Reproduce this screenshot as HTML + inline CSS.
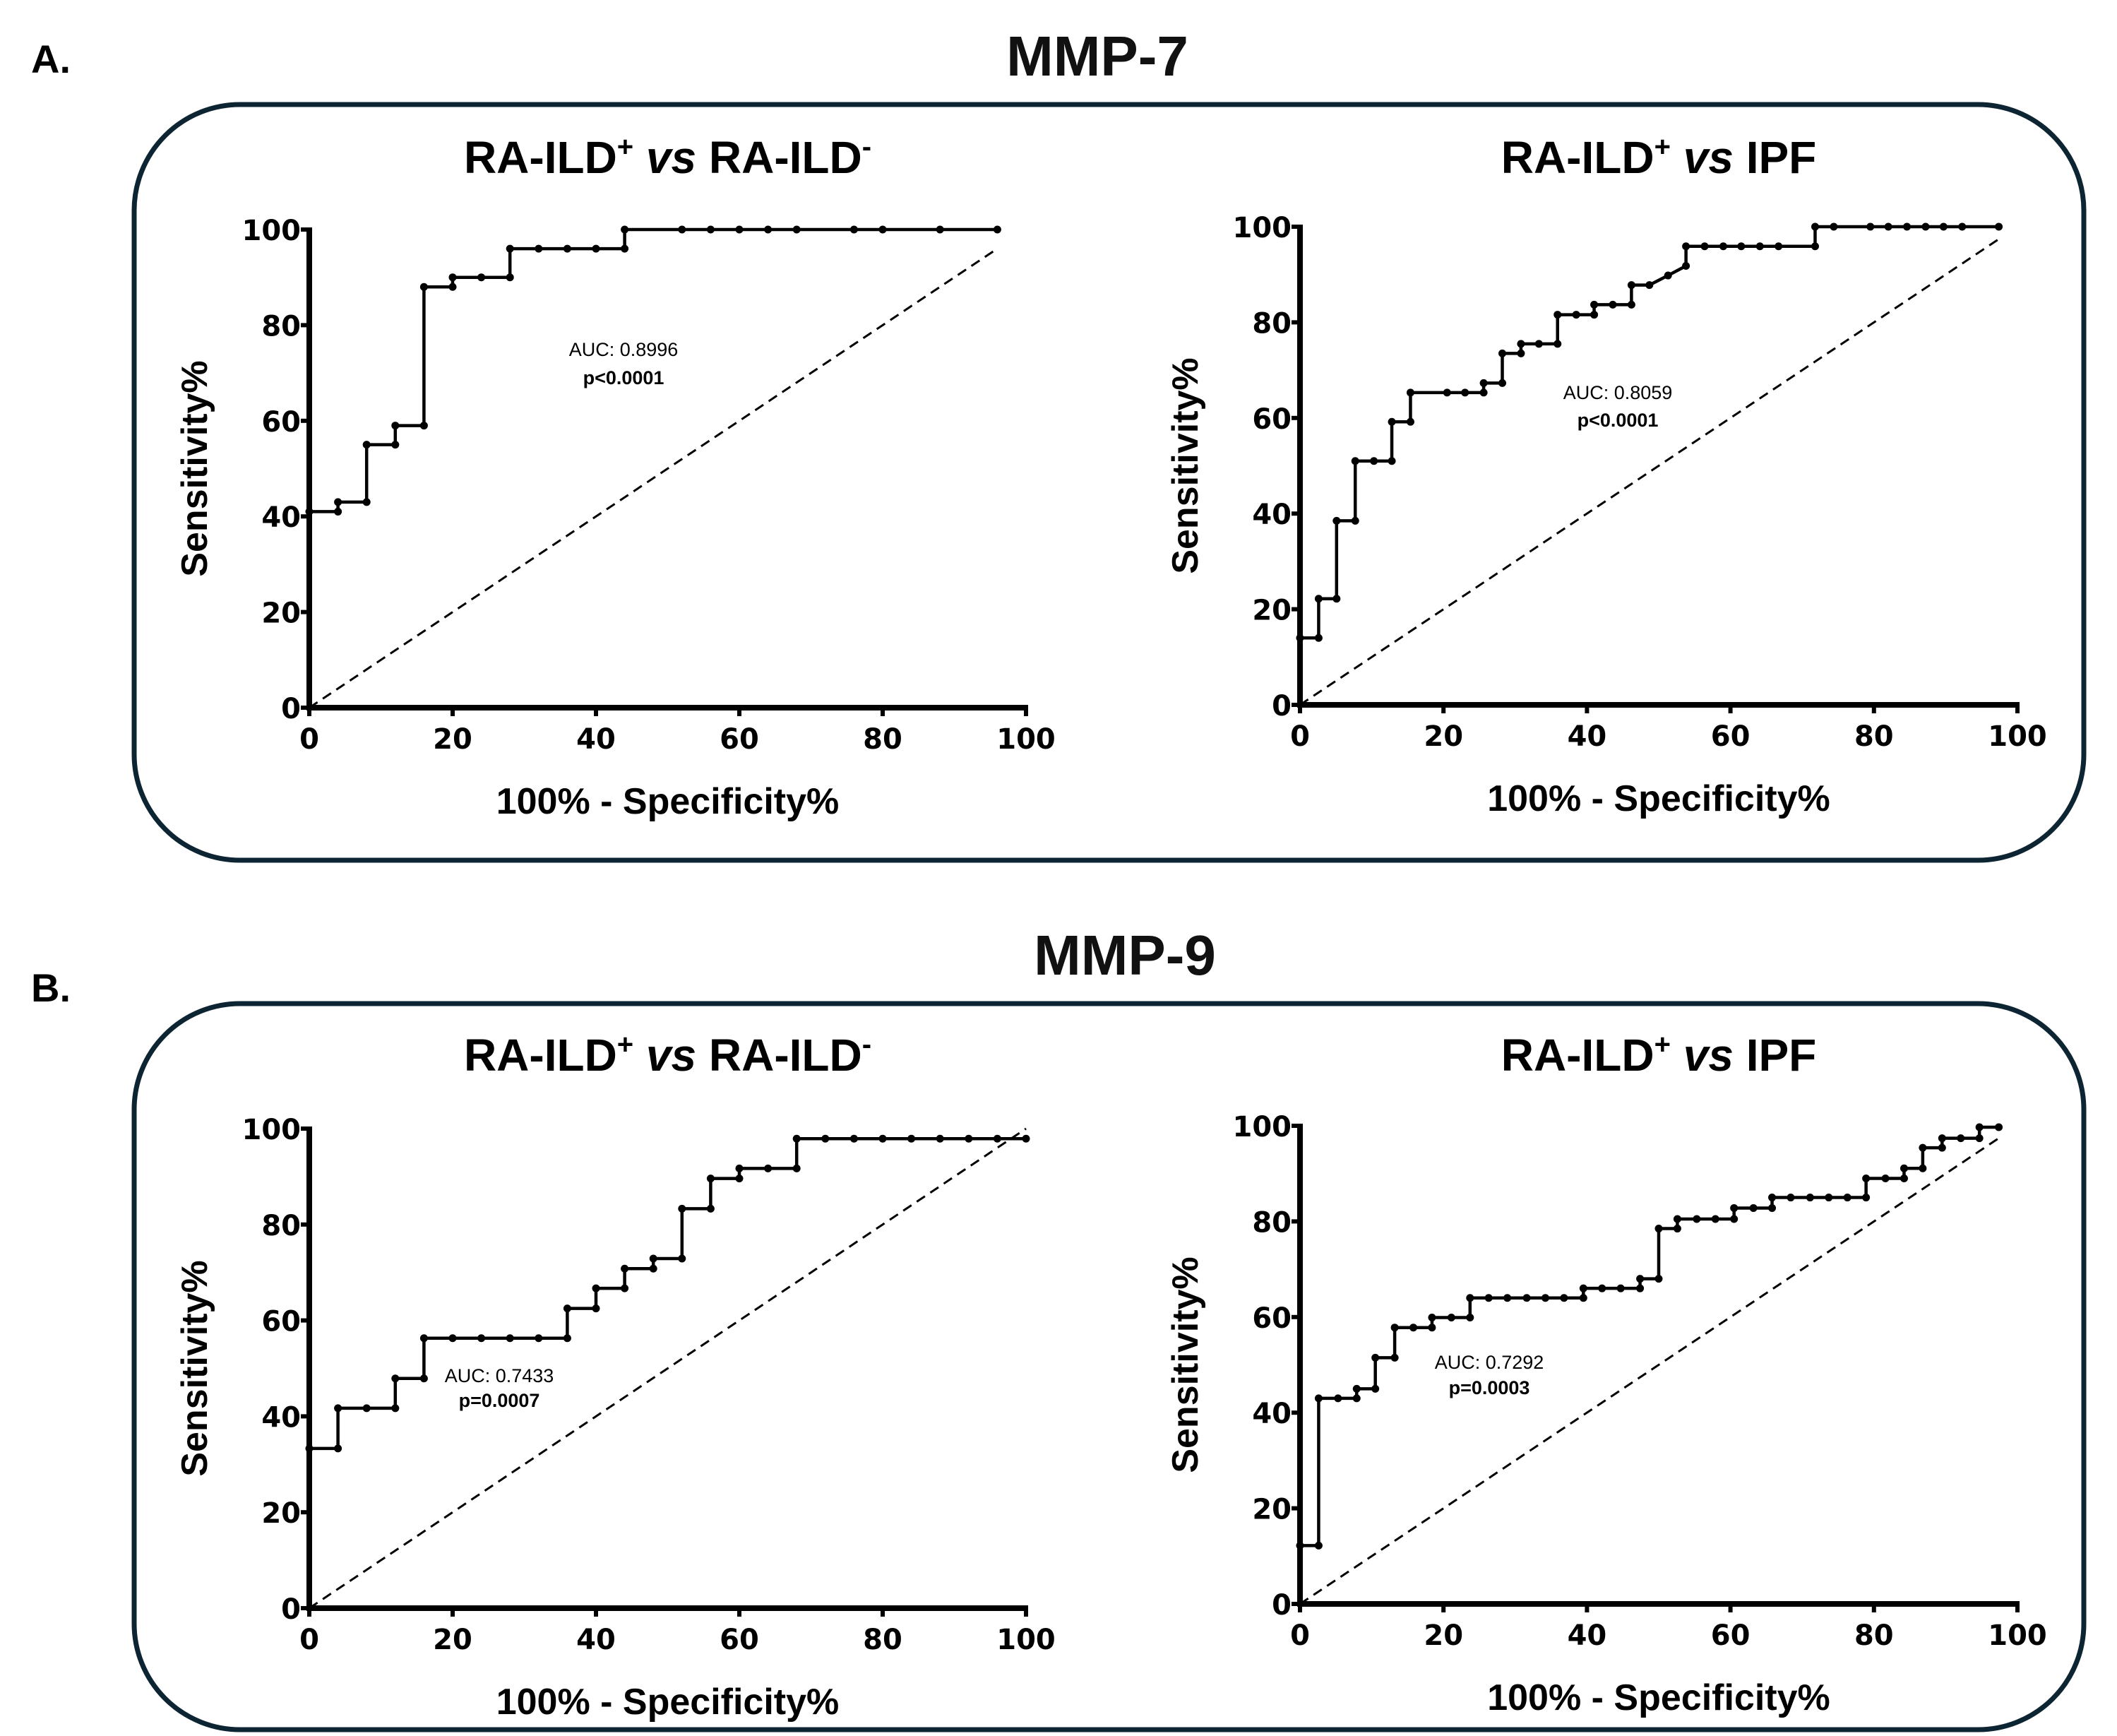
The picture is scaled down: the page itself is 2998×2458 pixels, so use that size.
<!DOCTYPE html>
<html><head><meta charset="utf-8"><style>
html,body{margin:0;padding:0;background:#fff;}
svg{display:block;font-family:"Liberation Sans",Arial,sans-serif;}
</style></head><body>
<svg id="root" width="2998" height="2458" viewBox="0 0 2998 2458" xmlns="http://www.w3.org/2000/svg">
<rect width="2998" height="2458" fill="#fff"/>
<text x="44" y="103" font-size="56" font-weight="bold">A.</text>
<text x="1554" y="107" font-size="80" font-weight="bold" text-anchor="middle" fill="#111">MMP-7</text>
<rect x="190" y="148" width="2761" height="1070" rx="150" ry="150" fill="none" stroke="#0d2533" stroke-width="7"/>
<text x="44" y="1418" font-size="56" font-weight="bold">B.</text>
<text x="1593" y="1380" font-size="80" font-weight="bold" text-anchor="middle" fill="#111">MMP-9</text>
<rect x="190" y="1421" width="2761" height="1028" rx="150" ry="150" fill="none" stroke="#0d2533" stroke-width="7"/>
<g id="plots"></g>
</svg>
<script>
// Data (100% - Specificity%, Sensitivity%)
const a1X = [0,4,4,8,8,12,12,16,16,20,20,24,28,28,32,36,40,44,44,52,56,60,64,68,76,80,88,96];
const a1Y = [41,41,43,43,55,55,59,59,88,88,90,90,90,96,96,96,96,96,100,100,100,100,100,100,100,100,100,100];
const a2X = [0,2.6,2.6,5.1,5.1,7.7,7.7,10.3,12.8,12.8,15.4,15.4,20.5,23,25.6,25.6,28.2,28.2,30.8,30.8,33.3,35.9,35.9,38.5,41,41,43.6,46.2,46.2,48.7,51.3,53.8,53.8,56.4,59,61.5,64.1,66.7,71.8,71.8,74.4,79.5,82,84.6,87.2,89.7,92.3,97.4];
const a2Y = [14,14,22.2,22.2,38.5,38.5,51,51,51,59.2,59.2,65.3,65.3,65.3,65.3,67.3,67.3,73.5,73.5,75.5,75.5,75.5,81.6,81.6,81.6,83.7,83.7,83.7,87.8,87.8,89.8,91.8,95.9,95.9,95.9,95.9,95.9,95.9,95.9,100,100,100,100,100,100,100,100,100];
const b1X = [0,4,4,8,12,12,16,16,20,24,28,32,36,36,40,40,44,44,48,48,52,52,56,56,60,60,64,68,68,72,76,80,84,88,92,96,100];
const b1Y = [33.3,33.3,41.7,41.7,41.7,47.9,47.9,56.3,56.3,56.3,56.3,56.3,56.3,62.5,62.5,66.7,66.7,70.8,70.8,72.9,72.9,83.3,83.3,89.6,89.6,91.7,91.7,91.7,97.9,97.9,97.9,97.9,97.9,97.9,97.9,97.9,97.9];
const b2X = [0,2.6,2.6,5.3,7.9,7.9,10.5,10.5,13.2,13.2,15.8,18.4,18.4,21.1,23.7,23.7,26.3,28.9,31.6,34.2,36.8,39.5,39.5,42.1,44.7,47.4,47.4,50,50,52.6,52.6,55.3,57.9,60.5,60.5,63.2,65.8,65.8,68.4,71.1,73.7,76.3,78.9,78.9,81.6,84.2,84.2,86.8,86.8,89.5,89.5,92.1,94.7,94.7,97.4];
const b2Y = [12.2,12.2,43,43,43,45,45,51.5,51.5,57.8,57.8,57.8,59.9,59.9,59.9,64,64,64,64,64,64,64,66,66,66,66,68,68,78.5,78.5,80.5,80.5,80.5,80.5,82.8,82.8,82.8,85,85,85,85,85,85,89,89,89,91.1,91.1,95.4,95.4,97.4,97.4,97.4,99.7,99.7];
const xTickLabels = ["0","20","40","60","80","100"];
const yTickLabels = ["0","20","40","60","80","100"];
const aucLabels = ["AUC: 0.8996","AUC: 0.8059","AUC: 0.7433","AUC: 0.7292"];
const pLabels = ["p<0.0001","p<0.0001","p=0.0007","p=0.0003"];
const diagEnd = [96, 97.4, 100, 97.4];

const NS = "http://www.w3.org/2000/svg";
const root = document.getElementById('plots');
function mk(tag, attrs, parent){const e=document.createElementNS(NS,tag);for(const k in attrs)e.setAttribute(k,attrs[k]);(parent||root).appendChild(e);return e;}

const plots = [
 {id:'a-left', x0:438,x1:1453,y0:1002,y1:325, X:a1X,Y:a1Y, right:'RA-ILD', sup2:'-', tY:245, auc:[883,495,535]},
 {id:'a-right',x0:1841,x1:2857,y0:998,y1:321, X:a2X,Y:a2Y, right:'IPF', sup2:'', tY:245, auc:[2291,556,595]},
 {id:'b-left', x0:438,x1:1453,y0:2277,y1:1598, X:b1X,Y:b1Y, right:'RA-ILD', sup2:'-', tY:1516, auc:[707,1948,1983]},
 {id:'b-right',x0:1841,x1:2857,y0:2271,y1:1594, X:b2X,Y:b2Y, right:'IPF', sup2:'', tY:1516, auc:[2109,1929,1965]}
];

plots.forEach((p,i)=>{
  const g = mk('g',{});
  
  
  const sx = v => p.x0 + (p.x1-p.x0)*v/100;
  const sy = v => p.y0 + (p.y1-p.y0)*v/100;
  const cx = (p.x0+p.x1)/2;
  const t = mk('text',{x:cx, y:p.tY, 'font-size':64, 'font-weight':'bold','text-anchor':'middle'},g);
  
  
  t.innerHTML = 'RA-ILD<tspan dy="-24" font-size="40">+</tspan><tspan dy="24"> </tspan><tspan font-style="italic">vs</tspan>  ' + p.right + (p.sup2?'<tspan dy="-24" font-size="40">-</tspan>':'');
  const d = mk('line',{x1:sx(0),y1:sy(0),x2:sx(diagEnd[i]),y2:sy(diagEnd[i]),stroke:'#000','stroke-width':3,'stroke-dasharray':'14,9'},g);
  
  
  let pts = p.X.map((x,k)=>sx(x)+','+sy(p.Y[k])).join(' ');
  const c = mk('polyline',{points:pts,fill:'none',stroke:'#000','stroke-width':4.5},g);
  
  
  p.X.forEach((x,k)=>{
    const m = mk('circle',{cx:sx(x),cy:sy(p.Y[k]),r:5.5,fill:'#000'},g);
    
    
  });
  const ax = mk('path',{d:`M${p.x0},${p.y1-3} L${p.x0},${p.y0} L${p.x1+3},${p.y0}`,fill:'none',stroke:'#000','stroke-width':8},g);
  
  
  xTickLabels.forEach((lab,k)=>{
    const v = k*20, x = sx(v);
    mk('line',{x1:x,y1:p.y0,x2:x,y2:p.y0+12,stroke:'#000','stroke-width':6},g);
    const tl = mk('text',{x:x,y:p.y0+58,'font-size':40,'font-weight':'bold','text-anchor':'middle','font-family':'"DejaVu Sans",sans-serif'},g);
    
    
    tl.textContent = lab;
  });
  yTickLabels.forEach((lab,k)=>{
    const v = k*20, y = sy(v);
    mk('line',{x1:p.x0-12,y1:y,x2:p.x0,y2:y,stroke:'#000','stroke-width':6},g);
    const tl = mk('text',{x:p.x0-12,y:y+15,'font-size':40,'font-weight':'bold','text-anchor':'end','font-family':'"DejaVu Sans",sans-serif'},g);
    
    
    tl.textContent = lab;
  });
  const xt = mk('text',{x:cx,y:p.y0+150,'font-size':52,'font-weight':'bold','text-anchor':'middle'},g);
  
  
  xt.textContent = '100% - Specificity%';
  const yc = (p.y0+p.y1)/2, yx = p.x0-145;
  const yt = mk('text',{x:yx,y:yc,'font-size':52,'font-weight':'bold','text-anchor':'middle',transform:`rotate(-90 ${yx} ${yc})`},g);
  
  
  yt.textContent = 'Sensitivity%';
  const au = mk('text',{x:p.auc[0],y:p.auc[1]+9,'font-size':27,'text-anchor':'middle'},g);
  
  
  au.textContent = aucLabels[i];
  const pv = mk('text',{x:p.auc[0],y:p.auc[2]+9,'font-size':27,'font-weight':'bold','text-anchor':'middle'},g);
  
  
  pv.textContent = pLabels[i];
});
</script>
</body></html>
